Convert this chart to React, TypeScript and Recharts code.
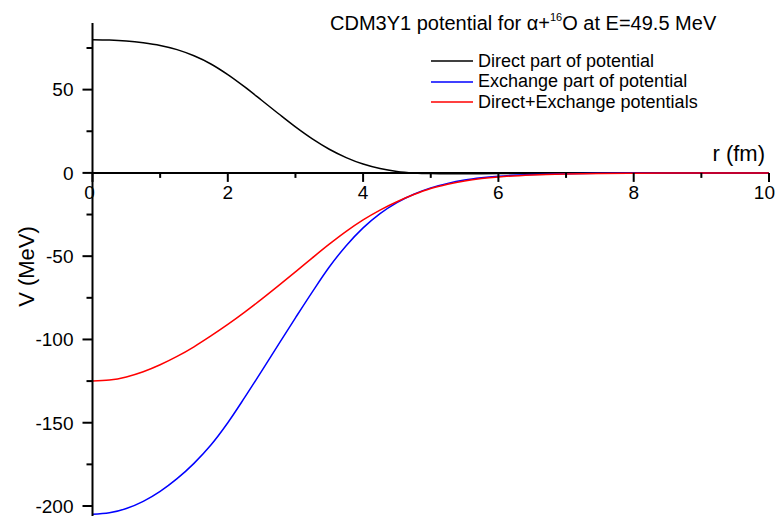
import React from 'react';
import { LineChart, Line, XAxis, YAxis, ReferenceLine, ReferenceDot, Legend } from 'recharts';

const rValues = [0, 0.25, 0.5, 0.75, 1, 1.25, 1.5, 1.75, 2, 2.25, 2.5, 2.75, 3, 3.25, 3.5, 3.75, 4, 4.25, 4.5, 4.75, 5, 5.25, 5.5, 5.75, 6, 6.5, 7, 7.5, 8, 8.5, 9, 9.5, 10];
const directPart = [80, 79.8, 79.2, 78.1, 76.5, 74.0, 70.3, 65.4, 59.0, 51.6, 43.6, 35.5, 27.6, 20.4, 14.2, 9.2, 5.3, 2.6, 0.9, 0.0, -0.4, -0.5, -0.5, -0.45, -0.4, -0.25, -0.15, -0.08, -0.04, -0.02, -0.01, 0, 0];
const exchangePart = [-205, -204.1, -201.5, -197.2, -191.2, -183.6, -174.4, -163.4, -150.0, -134.8, -119.0, -102.9, -87.0, -71.4, -56.5, -43.7, -33.0, -24.4, -17.8, -12.8, -9.0, -6.3, -4.3, -2.95, -2.0, -0.95, -0.45, -0.22, -0.11, -0.05, -0.03, -0.01, 0];
const totalPotential = [-125, -124.4, -122.5, -119.4, -115.2, -110.2, -104.4, -97.9, -91.0, -83.6, -75.8, -67.7, -59.4, -51.0, -42.8, -35.1, -28.2, -22.3, -17.3, -13.0, -9.4, -6.8, -4.8, -3.4, -2.4, -1.2, -0.6, -0.3, -0.15, -0.07, -0.04, -0.01, 0];

const xMajorTicks = [0, 2, 4, 6, 8, 10];
const xMinorTicks = [1, 3, 5, 7, 9];
const yMajorTicks = [-200, -150, -100, -50, 0, 50];
const yMinorTicks = [-175, -125, -75, -25, 25, 75];
const seriesNames = ['Direct part of potential', 'Exchange part of potential', 'Direct+Exchange potentials'];
const seriesColors = ['#000000', '#0000ff', '#ff0000'];

const data = rValues.map((r, i) => ({
  r,
  direct: directPart[i],
  exchange: exchangePart[i],
  total: totalPotential[i],
}));

const FONT = "'Liberation Sans', Arial, sans-serif";

const YTick = (props: any) => {
  const { x, y, payload } = props;
  const v = payload.value;
  const major = yMajorTicks.includes(v);
  return (
    <g>
      <line x1={x - (major ? 10 : 6)} x2={x} y1={y} y2={y} stroke="#000" strokeWidth={2} />
      {major && (
        <text x={x - 19} y={y} dy="0.36em" textAnchor="end" fontSize={19} fontFamily={FONT} fill="#000">
          {v}
        </text>
      )}
    </g>
  );
};

const makeXTick = (label: string | null, major: boolean, last: boolean) => (props: any) => {
  const { cx, cy } = props;
  return (
    <g>
      <line x1={cx} x2={cx} y1={cy} y2={cy + (major ? 9 : 5)} stroke="#000" strokeWidth={2} />
      {label !== null && (
        <text
          x={last ? cx + 6 : cx - (label === '0' ? 3 : 0)}
          y={cy + 19}
          dy="0.36em"
          textAnchor={last ? 'end' : 'middle'}
          fontSize={19}
          fontFamily={FONT}
          fill="#000"
        >
          {label}
        </text>
      )}
      {last && (
        <text x={cx - 4} y={cy - 12} textAnchor="end" fontSize={22} fontFamily={FONT} fill="#000">
          r (fm)
        </text>
      )}
    </g>
  );
};

const LegendContent = (props: any) => {
  const payload = [...(props.payload || [])].sort(
    (a: any, b: any) => seriesNames.indexOf(a.value) - seriesNames.indexOf(b.value)
  );
  return (
    <div style={{ fontFamily: FONT, fontSize: 18, color: '#000' }}>
      {payload.map((p: any, i: number) => (
        <div key={i} style={{ display: 'flex', alignItems: 'center', height: 20.5 }}>
          <svg width={42} height={4} style={{ display: 'block' }}>
            <line x1={0} x2={42} y1={2} y2={2} stroke={p.color} strokeWidth={1.5} />
          </svg>
          <span style={{ marginLeft: 5, whiteSpace: 'nowrap', lineHeight: '20.5px' }}>{p.value}</span>
        </div>
      ))}
    </div>
  );
};

const YLabel = (props: any) => {
  const vb = props.viewBox || {};
  const cx = vb.x - 6;
  const cy = vb.y + vb.height / 2 - 3;
  return (
    <text x={cx} y={cy} dy="0.36em" textAnchor="middle" fontSize={22} fontFamily={FONT} fill="#000" transform={`rotate(-90, ${cx}, ${cy})`}>
      V (MeV)
    </text>
  );
};

export default function App() {
  return (
    <div style={{ position: 'absolute', left: 0, top: 0, width: 776, height: 517, background: '#fff' }}>
      <LineChart width={776} height={517} data={data} margin={{ top: 23, right: 7, bottom: 1, left: 32.5 }}>
        <XAxis dataKey="r" type="number" domain={[0, 10]} hide allowDataOverflow />
        <YAxis
          type="number"
          domain={[-206, 90]}
          allowDataOverflow
          width={60}
          ticks={[...yMajorTicks, ...yMinorTicks].sort((a, b) => a - b)}
          interval={0}
          tick={<YTick />}
          tickLine={false}
          tickSize={0}
          tickMargin={0}
          axisLine={{ stroke: '#000', strokeWidth: 2 }}
          label={<YLabel />}
        />
        <ReferenceLine y={0} stroke="#000" strokeWidth={2} />
        {xMajorTicks.map((t, i) => (
          <ReferenceDot key={'M' + t} x={t} y={0} r={0} shape={makeXTick(String(t), true, i === xMajorTicks.length - 1)} />
        ))}
        {xMinorTicks.map((t) => (
          <ReferenceDot key={'m' + t} x={t} y={0} r={0} shape={makeXTick(null, false, false)} />
        ))}
        <Line type="monotone" dataKey="direct" name={seriesNames[0]} stroke={seriesColors[0]} strokeWidth={1.5} dot={false} isAnimationActive={false} />
        <Line type="monotone" dataKey="exchange" name={seriesNames[1]} stroke={seriesColors[1]} strokeWidth={1.5} dot={false} isAnimationActive={false} />
        <Line type="monotone" dataKey="total" name={seriesNames[2]} stroke={seriesColors[2]} strokeWidth={1.5} dot={false} isAnimationActive={false} />
        <Legend
          layout="vertical"
          align="center"
          verticalAlign="middle"
          content={<LegendContent />}
          wrapperStyle={{ left: 431, top: 50.75, right: 'auto', bottom: 'auto', width: 'auto', height: 'auto' }}
        />
      </LineChart>
      <svg width={776} height={45} style={{ position: 'absolute', left: 0, top: 0, pointerEvents: 'none' }}>
        <text x={330} y={30} fontSize={20} fontFamily={FONT} fill="#000">
          CDM3Y1 potential for α+
          <tspan dy={-9} fontSize={11}>16</tspan>
          <tspan dy={9}>O at E=49.5 MeV</tspan>
        </text>
      </svg>
    </div>
  );
}
